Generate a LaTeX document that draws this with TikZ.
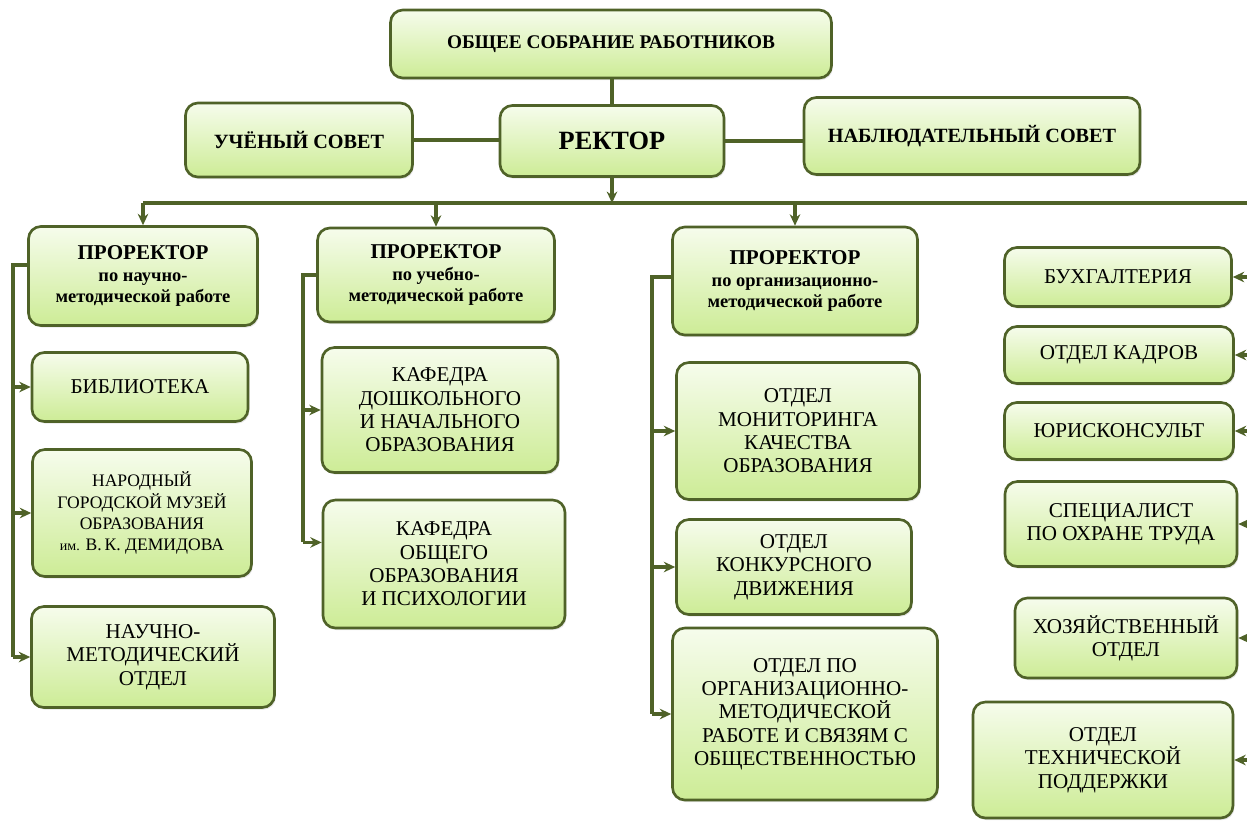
\documentclass[tikz,border=0pt]{standalone}
\usepackage{fontspec}
\setmainfont{Liberation Serif}
\setsansfont{Liberation Serif}
\usepackage{tikz}
\usetikzlibrary{arrows, arrows.meta, positioning, shadows}
\definecolor{boxline}{RGB}{79,98,40}
\definecolor{boxtop}{RGB}{246,252,236}
\definecolor{boxbot}{RGB}{205,236,150}
\tikzset{>={Stealth[length=6.5pt,width=6pt]},
    unit/.style={draw=boxline, line width=1.5pt, rounded corners=7pt, top color=boxtop, bottom color=boxbot,
        align=center, inner sep=2pt, drop shadow={opacity=0.2, shadow xshift=0.8pt, shadow yshift=-1.2pt},
        font=\rmfamily\fontsize{12}{13.3}\selectfont},
    head/.style={unit, font=\rmfamily\bfseries\fontsize{11.5}{13}\selectfont},
    vice/.style={unit, font=\rmfamily\bfseries\fontsize{10.5}{12.5}\selectfont},
    link/.style={draw=boxline, line width=1.8pt},
    feed/.style={link, ->}}

\begin{document}
\begin{tikzpicture}[x=0.02cm, y=-0.02cm]
    \useasboundingbox (0,0) rectangle (1247,823);
    \node [head, minimum width=8.82cm, minimum height=1.36cm, font=\rmfamily\bfseries\fontsize{11}{13}\selectfont](sobr) at (611,44) {ОБЩЕЕ СОБРАНИЕ РАБОТНИКОВ};
    \node [head, minimum width=4.54cm, minimum height=1.48cm](sovet) at (299,140) {УЧЁНЫЙ СОВЕТ};
    \node [head, minimum width=4.48cm, minimum height=1.42cm, font=\rmfamily\bfseries\fontsize{15}{17}\selectfont](rektor) at (612,141) {РЕКТОР};
    \node [head, minimum width=6.72cm, minimum height=1.54cm](nabl) at (972,136) {НАБЛЮДАТЕЛЬНЫЙ СОВЕТ};
    \node [vice, minimum width=4.58cm, minimum height=1.98cm](pr1) at (143,276) {{\fontsize{12}{13}\selectfont ПРОРЕКТОР}\\по научно-\\методической работе};
    \node [vice, minimum width=4.74cm, minimum height=1.88cm](pr2) at (436,275) {{\fontsize{12}{13}\selectfont ПРОРЕКТОР}\\по учебно-\\методической работе};
    \node [vice, minimum width=4.9cm, minimum height=2.16cm](pr3) at (795,281) {{\fontsize{12}{13}\selectfont ПРОРЕКТОР}\\по организационно-\\методической работе};
    \node [unit, minimum width=4.32cm, minimum height=1.38cm](bibl) at (140,387) {БИБЛИОТЕКА};
    \node [unit, minimum width=4.38cm, minimum height=2.54cm, font=\rmfamily\fontsize{10}{12}\selectfont](muzei) at (142,513) {НАРОДНЫЙ\\ГОРОДСКОЙ МУЗЕЙ\\ОБРАЗОВАНИЯ\\{\footnotesize им.} В.\,К. ДЕМИДОВА};
    \node [unit, minimum width=4.86cm, minimum height=2.02cm](nmo) at (153,657) {НАУЧНО-\\МЕТОДИЧЕСКИЙ\\ОТДЕЛ};
    \node [unit, minimum width=4.72cm, minimum height=2.5cm](kdosh) at (440,410) {КАФЕДРА\\ДОШКОЛЬНОГО\\И НАЧАЛЬНОГО\\ОБРАЗОВАНИЯ};
    \node [unit, minimum width=4.84cm, minimum height=2.56cm](kobsh) at (444,564) {КАФЕДРА\\ОБЩЕГО\\ОБРАЗОВАНИЯ\\И ПСИХОЛОГИИ};
    \node [unit, minimum width=4.86cm, minimum height=2.74cm](monit) at (798,431) {ОТДЕЛ\\МОНИТОРИНГА\\КАЧЕСТВА\\ОБРАЗОВАНИЯ};
    \node [unit, minimum width=4.7cm, minimum height=1.9cm](konk) at (794,567) {ОТДЕЛ\\КОНКУРСНОГО\\ДВИЖЕНИЯ};
    \node [unit, minimum width=5.3cm, minimum height=3.44cm](orgm) at (805,714) {ОТДЕЛ ПО\\ОРГАНИЗАЦИОННО-\\МЕТОДИЧЕСКОЙ\\РАБОТЕ И СВЯЗЯМ С\\ОБЩЕСТВЕННОСТЬЮ};
    \node [unit, minimum width=4.54cm, minimum height=1.18cm](buh) at (1118,277) {БУХГАЛТЕРИЯ};
    \node [unit, minimum width=4.58cm, minimum height=1.14cm](kadr) at (1119,355) {ОТДЕЛ КАДРОВ};
    \node [unit, minimum width=4.58cm, minimum height=1.14cm](yur) at (1119,431) {ЮРИСКОНСУЛЬТ};
    \node [unit, minimum width=4.64cm, minimum height=1.7cm](spec) at (1121,524) {СПЕЦИАЛИСТ\\ПО ОХРАНЕ ТРУДА};
    \node [unit, minimum width=4.44cm, minimum height=1.6cm](hoz) at (1126,638) {ХОЗЯЙСТВЕННЫЙ\\ОТДЕЛ};
    \node [unit, minimum width=5.2cm, minimum height=2.32cm](tech) at (1103,760) {ОТДЕЛ\\ТЕХНИЧЕСКОЙ\\ПОДДЕРЖКИ};
    \coordinate (bus) at (1250,203);
    \coordinate (c1) at (13,265);
    \coordinate (c2) at (303,275);
    \coordinate (c3) at (652,277);
    \draw [link] (rektor.north |- sobr.south) -- (rektor.north);
    \draw [link] (sovet.east) -- (sovet.east -| rektor.west);
    \draw [link] (rektor.east) -- (rektor.east -| nabl.west);
    \draw [feed] (rektor.south) -- (rektor.south |- bus);
    \draw [link] (pr1.north |- bus) -- (bus) -- (bus |- tech);
    \foreach \n in {pr1,pr2,pr3} \draw [feed] (\n.north |- bus) -- (\n.north);
    \foreach \n in {buh,kadr,yur,spec,hoz,tech} \draw [feed] (bus |- \n) -- (\n);
    \draw [link] (pr1.west |- c1) -- (c1) -- (c1 |- nmo);
    \foreach \n in {bibl,muzei,nmo} \draw [feed] (c1 |- \n) -- (\n);
    \draw [link] (pr2.west |- c2) -- (c2) -- (c2 |- kobsh.170);
    \draw [feed] (c2 |- kdosh) -- (kdosh);
    \draw [feed] (c2 |- kobsh.170) -- (kobsh.170);
    \draw [link] (pr3.west |- c3) -- (c3) -- (c3 |- orgm);
    \foreach \n in {monit,konk,orgm} \draw [feed] (c3 |- \n) -- (\n);
\end{tikzpicture}
\end{document}
